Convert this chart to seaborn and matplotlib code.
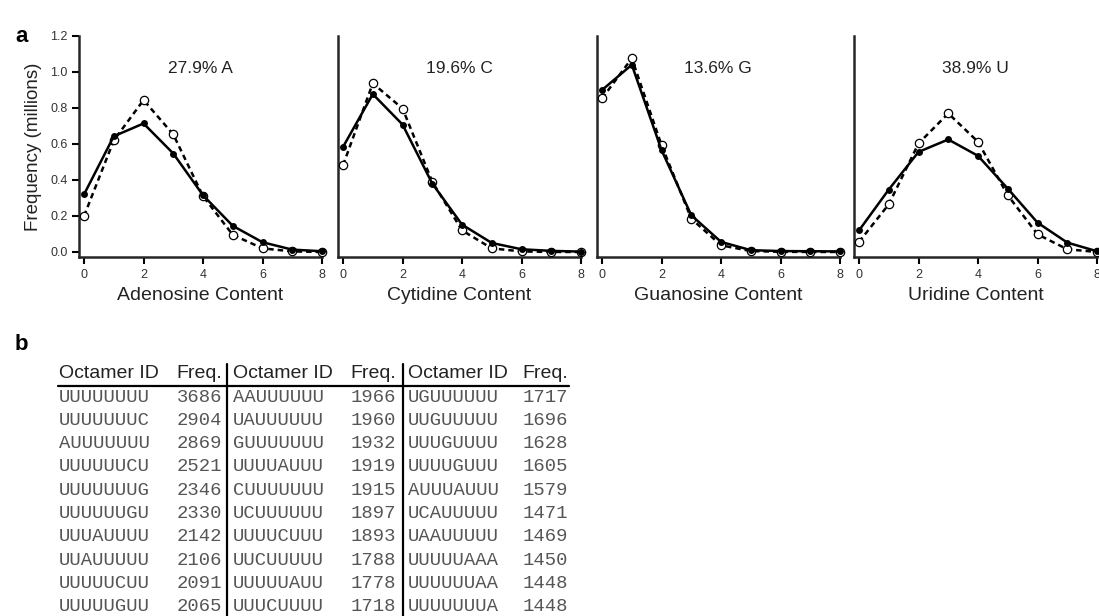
import numpy as np
import pandas as pd
import seaborn as sns
from matplotlib import pyplot as plt

# nucleotide content (number of a given base in an octamer)
content = [0, 1, 2, 3, 4, 5, 6, 7, 8]

panel_titles = ['27.9% A', '19.6% C', '13.6% G', '38.9% U']
panel_xlabels = ['Adenosine Content', 'Cytidine Content', 'Guanosine Content', 'Uridine Content']

# frequency in millions, solid line (observed) and dashed line (expected)
obs_A = [0.32, 0.643, 0.714, 0.547, 0.315, 0.145, 0.054, 0.013, 0.004]
exp_A = [0.20, 0.620, 0.844, 0.653, 0.310, 0.095, 0.020, 0.003, 0.000]
obs_C = [0.584, 0.877, 0.708, 0.380, 0.152, 0.050, 0.015, 0.006, 0.002]
exp_C = [0.482, 0.937, 0.797, 0.390, 0.120, 0.020, 0.003, 0.000, 0.000]
obs_G = [0.900, 1.040, 0.566, 0.204, 0.056, 0.010, 0.005, 0.004, 0.003]
exp_G = [0.853, 1.076, 0.593, 0.185, 0.037, 0.005, 0.001, 0.000, 0.000]
obs_U = [0.120, 0.347, 0.556, 0.625, 0.534, 0.352, 0.163, 0.052, 0.004]
exp_U = [0.056, 0.265, 0.603, 0.770, 0.612, 0.315, 0.098, 0.015, 0.000]

observed = [obs_A, obs_C, obs_G, obs_U]
expected = [exp_A, exp_C, exp_G, exp_U]

# table b
table_ids_1 = ['UUUUUUUU', 'UUUUUUUC', 'AUUUUUUU', 'UUUUUUCU', 'UUUUUUUG',
               'UUUUUUGU', 'UUUAUUUU', 'UUAUUUUU', 'UUUUUCUU', 'UUUUUGUU']
table_freq_1 = [3686, 2904, 2869, 2521, 2346, 2330, 2142, 2106, 2091, 2065]
table_ids_2 = ['AAUUUUUU', 'UAUUUUUU', 'GUUUUUUU', 'UUUUAUUU', 'CUUUUUUU',
               'UCUUUUUU', 'UUUUCUUU', 'UUCUUUUU', 'UUUUUAUU', 'UUUCUUUU']
table_freq_2 = [1966, 1960, 1932, 1919, 1915, 1897, 1893, 1788, 1778, 1718]
table_ids_3 = ['UGUUUUUU', 'UUGUUUUU', 'UUUGUUUU', 'UUUUGUUU', 'AUUUAUUU',
               'UCAUUUUU', 'UAAUUUUU', 'UUUUUAAA', 'UUUUUUAA', 'UUUUUUUA']
table_freq_3 = [1717, 1696, 1628, 1605, 1579, 1471, 1469, 1450, 1448, 1448]

sns.set_style('ticks')
plt.rcParams['font.family'] = ['Liberation Sans', 'DejaVu Sans']
plt.rcParams['text.color'] = '#222222'
plt.rcParams['axes.labelcolor'] = '#222222'

W, H = 1099, 616
fig = plt.figure(figsize=(W / 100, H / 100), dpi=100)

# panel a
lefts = [79, 338, 597, 854]
for i in range(4):
    ax = fig.add_axes([lefts[i] / W, (H - 257) / H, 243 / W, (257 - 36) / H])
    df = pd.DataFrame({'content': content, 'observed': observed[i], 'expected': expected[i]})
    sns.lineplot(data=df, x='content', y='expected', ax=ax, color='black', lw=1.8,
                 linestyle=(0, (2.2, 1.6)), marker='o', markersize=6,
                 markerfacecolor='white', markeredgecolor='black', markeredgewidth=0.9,
                 clip_on=False, zorder=3)
    sns.lineplot(data=df, x='content', y='observed', ax=ax, color='black', lw=1.8,
                 marker='o', markersize=5, markeredgewidth=0, clip_on=False, zorder=4)
    ax.set_xlim(-0.17, 8)
    ax.set_ylim(-0.028, 1.2)
    ax.set_xticks([0, 2, 4, 6, 8])
    ax.tick_params(axis='x', labelsize=9, length=5, width=1.5, colors='black',
                   labelcolor='#333333', pad=4)
    if i == 0:
        ax.set_yticks([0.0, 0.2, 0.4, 0.6, 0.8, 1.0, 1.2])
        ax.set_yticklabels(['0.0', '0.2', '0.4', '0.6', '0.8', '1.0', '1.2'])
        ax.tick_params(axis='y', labelsize=9, length=5, width=1.5, colors='black',
                       labelcolor='#333333', pad=3)
        ax.set_ylabel('Frequency (millions)', fontsize=13.5, labelpad=6)
    else:
        ax.set_yticks([])
        ax.set_ylabel('')
    ax.set_xlabel(panel_xlabels[i], fontsize=14, labelpad=4)
    ax.text(3.9, 1.02, panel_titles[i], ha='center', va='center', fontsize=12.5)
    sns.despine(ax=ax)
    for s in ['left', 'bottom']:
        ax.spines[s].set_linewidth(1.8)
    ax.patch.set_alpha(0)

fig.text(15 / W, 1 - 37 / H, 'a', fontsize=16, fontweight='bold', va='center', color='black')
fig.text(15 / W, 1 - 344 / H, 'b', fontsize=16, fontweight='bold', va='center', color='black')

# panel b: the table
tab = fig.add_axes([0, 0, 1, 1])
tab.set_xlim(0, W)
tab.set_ylim(H, 0)
tab.axis('off')

id_x = [59, 233, 408]
freq_x = [222, 396, 568]
ids = [table_ids_1, table_ids_2, table_ids_3]
freqs = [table_freq_1, table_freq_2, table_freq_3]
row_y = 397
row_step = 23.3
for c in range(3):
    tab.text(id_x[c], 374, 'Octamer ID', fontsize=14, ha='left', va='center')
    tab.text(freq_x[c], 374, 'Freq.', fontsize=14, ha='right', va='center')
    for r in range(len(ids[c])):
        tab.text(id_x[c], row_y + r * row_step, ids[c][r], fontsize=13.6,
                 family='Liberation Mono', color='#555555', ha='left', va='center')
        tab.text(freq_x[c], row_y + r * row_step, str(freqs[c][r]), fontsize=13.6,
                 family='Liberation Mono', color='#555555', ha='right', va='center')

tab.plot([58, 569], [386, 386], color='black', lw=1.6)
tab.plot([227, 227], [364, H], color='black', lw=1.6)
tab.plot([403, 403], [364, H], color='black', lw=1.6)

fig.savefig('out.png', dpi=100)
